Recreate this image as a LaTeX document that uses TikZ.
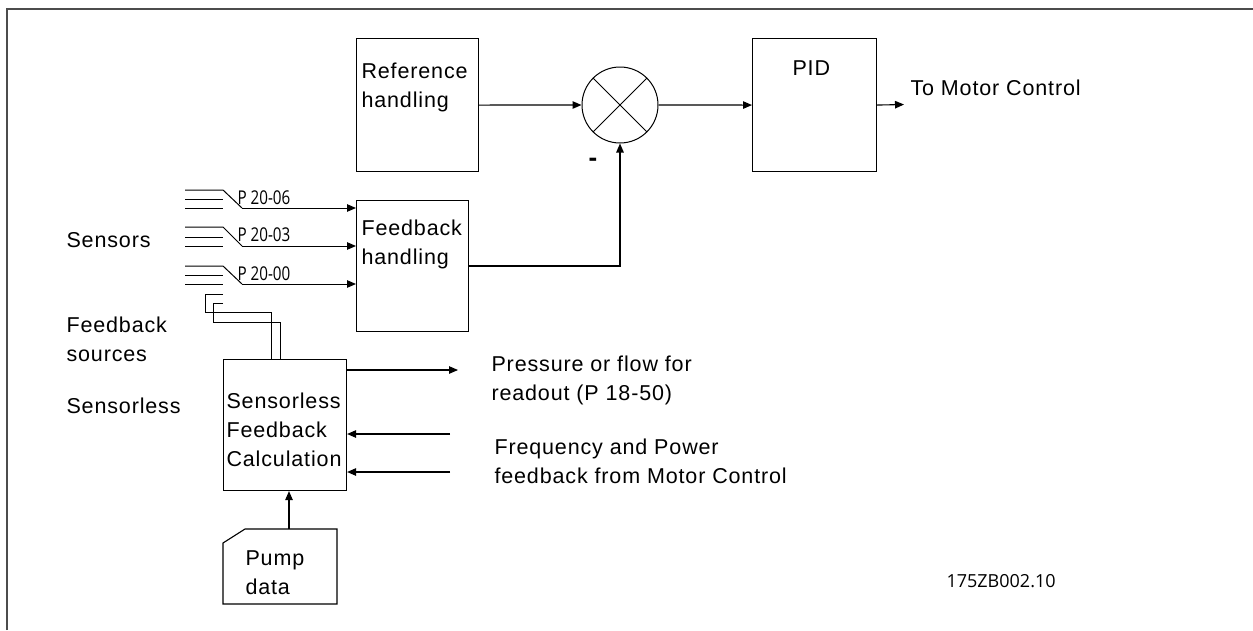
\documentclass[tikz,border=0pt]{standalone}
\usepackage{fontspec}
\setmainfont{Liberation Sans}
\newfontfamily\lbfont[LetterSpace=4]{Liberation Sans}
\newfontfamily\codefont{Open Sans}
\usetikzlibrary{arrows.meta}
\begin{document}
\begin{tikzpicture}[x=1pt,y=-1pt,line width=1.1pt,
  box/.style={draw,inner sep=0pt,anchor=north west},
  lbl/.style={anchor=north west,inner sep=0pt,align=left,font=\lbfont\fontsize{21.5}{29}\selectfont},
  plbl/.style={anchor=west,inner sep=0pt,font=\codefont\fontsize{19}{20}\selectfont},
  arr/.style={-{Triangle[length=9pt,width=7.5pt]}},
  thin/.style={line width=1pt}]
\useasboundingbox (0,0) rectangle (1253,630);
% frame
\draw[line width=2pt,black!70] (7,630) -- (7,9) -- (1253,9);
% boxes
\node[box,minimum width=122pt,minimum height=133pt] (ref) at (356,38) {};
\node[box,minimum width=124pt,minimum height=133pt] (pid) at (752,38) {};
\node[box,minimum width=112pt,minimum height=131pt] (fb) at (356,200) {};
\node[box,minimum width=123pt,minimum height=131pt] (sl) at (223,359) {};
\node[draw,circle,minimum size=76pt,inner sep=0pt,line width=1pt] (sum) at (620,105) {};
\draw[line width=1pt] (sum.north west) -- (sum.south east) (sum.north east) -- (sum.south west);
% pump data
\node[inner sep=0pt,anchor=north west,minimum width=114pt,minimum height=75pt] (pump) at (223,529) {};
\draw (223,543) -- (245,529) -- (337,529) -- (337,604) -- (223,604) -- cycle;
% texts
\node[lbl] (reft) at (361,62) {Reference\\handling};
\node[lbl] (fbt) at (361,219) {Feedback\\handling};
\node[lbl] (pidt) at (792,60) {PID};
\node[lbl] (tmct) at (910,79) {To Motor Control};
\node[inner sep=0pt,font=\bfseries\fontsize{26}{26}\selectfont] (minus) at (593,162) {-};
\node[lbl] (senst) at (66,232) {Sensors};
\node[lbl] (fbst) at (66,316) {Feedback\\sources};
\node[lbl] (slt) at (66,397) {Sensorless};
\node[lbl] (slbt) at (226,392) {Sensorless\\Feedback\\Calculation};
\node[lbl] (prt) at (491,355) {Pressure or flow for\\readout (P 18-50)};
\node[lbl] (frt) at (494,438) {Frequency and Power\\feedback from Motor Control};
\node[lbl] (pumpt) at (245,550) {Pump\\data};
\node[anchor=west,inner sep=0pt,font=\codefont\fontsize{18}{20}\selectfont] (code) at (946,581) {175ZB002.10};
% main connectors
\coordinate (tmc) at (904,104.5);
\draw[arr] (ref.east) -- (sum.west);
\draw[arr] (sum.east) -- (pid.west);
\draw[arr] (pid.east) -- (tmc);
\coordinate (fbo) at (468,266);
\draw[arr] (fbo) -| (sum.south);
% sensors
\foreach \t/\m/\b/\n/\lab in {190/199/208/1/P 20-06, 227/237/246/2/P 20-03, 266/275/284/3/P 20-00}{
  \draw[thin] (185,\t) -- (223,\t) -- (242,\b);
  \draw[thin] (185,\m) -- (223,\m);
  \draw[thin] (185,\b) -- (223,\b);
  \coordinate (s\n) at (242,\b);
  \draw[thin,arr] (s\n) -- (s\n -| fb.west);
  \node[plbl] (p\n) at (237,\t+8) {\scalebox{0.8}[1]{\lab}};
}
% feedback sources to sensorless
\draw[thin] (223,294) -- (205,294) -- (205,312) -- (271,312) -- (271,359);
\draw[thin] (223,303) -- (213,303) -- (213,322) -- (280,322) -- (280,359);
% sensorless connectors
\coordinate (po) at (458,370);
\draw[arr] (sl.east |- po) -- (po);
\coordinate (fi1) at (450,434);
\coordinate (fi2) at (450,472);
\draw[arr] (fi1) -- (fi1 -| sl.east);
\draw[arr] (fi2) -- (fi2 -| sl.east);
\coordinate (pa) at (289,529);
\draw[arr] (pa) -- (pa |- sl.south);
\end{tikzpicture}
\end{document}
